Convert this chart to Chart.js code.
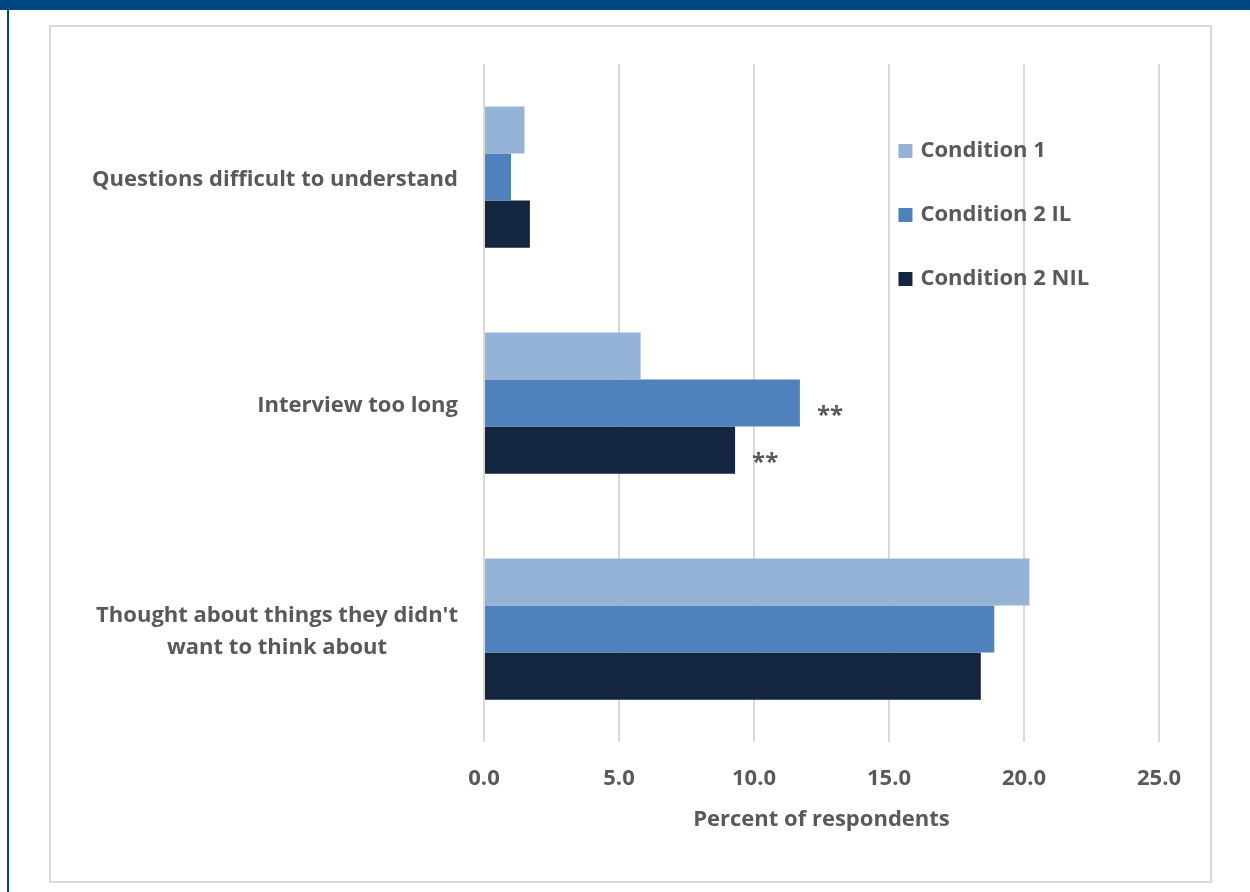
<!DOCTYPE html>
<html>
<head>
<meta charset="utf-8">
<script src="https://cdn.jsdelivr.net/npm/chart.js@4/dist/chart.umd.min.js"></script>
<style>
  html, body { margin:0; padding:0; background:#fff; }
  body { width:1250px; height:892px; position:relative; overflow:hidden; }
  #topbar { position:absolute; left:0; top:0; width:1250px; height:10px; background:#004680; }
  #leftline { position:absolute; left:7px; top:0; width:2px; height:892px; background:#004680; }
  #frame { position:absolute; left:49px; top:25px; width:1159px; height:854px; border:2px solid #d9d9d9; }
  #wrap { position:absolute; left:0; top:0; width:1250px; height:892px; }
</style>
</head>
<body>
<div id="topbar"></div>
<div id="leftline"></div>
<div id="frame"></div>
<div id="wrap"><canvas id="c"></canvas></div>
<script>
// ---- data ----
const categories = [
  ["Questions difficult to understand"],
  ["Interview too long"],
  ["Thought about things they didn't", "want to think about"]
];
const seriesNames = ["Condition 1", "Condition 2 IL", "Condition 2 NIL"];
const condition1 = [1.5, 5.8, 20.2];
const condition2IL = [1.0, 11.7, 18.9];
const condition2NIL = [1.7, 9.3, 18.4];
const sigCondition1 = ["", "", ""];
const sigCondition2IL = ["", "**", ""];
const sigCondition2NIL = ["", "**", ""];
const xTicks = [0, 5, 10, 15, 20, 25];
const xTitle = "Percent of respondents";

const colors = ["#95B3D7", "#4F81BD", "#13253F"];
const textColor = "#595959";
const FONT = "'Open Sans'";

const sigMarks = [sigCondition1, sigCondition2IL, sigCondition2NIL];

const customDraw = {
  id: 'customDraw',
  afterDatasetsDraw(chart) {
    const ctx = chart.ctx;
    const y = chart.scales.y;
    const x = chart.scales.x;
    ctx.save();
    ctx.fillStyle = textColor;
    // category labels
    ctx.font = "bold 22px " + FONT;
    ctx.textBaseline = "middle";
    ctx.textAlign = "center";
    const rightEdge = x.left - 26;
    const lh = 32;
    categories.forEach((lines, i) => {
      const cy = y.getPixelForValue(i) + 3;
      const w = Math.max(...lines.map(l => ctx.measureText(l).width));
      const cx = rightEdge - w / 2;
      const y0 = cy - (lines.length - 1) * lh / 2;
      lines.forEach((l, j) => ctx.fillText(l, cx, y0 + j * lh));
    });
    // significance marks
    ctx.font = "bold 24px " + FONT;
    ctx.textAlign = "left";
    chart.data.datasets.forEach((ds, di) => {
      const meta = chart.getDatasetMeta(di);
      meta.data.forEach((bar, i) => {
        const m = sigMarks[di][i];
        if (m) ctx.fillText(m, bar.x + 17, bar.y + 13);
      });
    });
    // legend
    ctx.font = "bold 22px " + FONT;
    ctx.textAlign = "left";
    const lx = x.getPixelForValue(15.35);
    const ly0 = y.top + 87;
    seriesNames.forEach((n, i) => {
      const ly = ly0 + i * 64;
      ctx.fillStyle = colors[i];
      ctx.fillRect(lx, ly - 7, 14, 14);
      ctx.fillStyle = textColor;
      ctx.fillText(n, lx + 22, ly);
    });
    ctx.restore();
  }
};

new Chart(document.getElementById('c'), {
  type: 'bar',
  data: {
    labels: categories,
    datasets: [
      { label: seriesNames[0], data: condition1, backgroundColor: colors[0] },
      { label: seriesNames[1], data: condition2IL, backgroundColor: colors[1] },
      { label: seriesNames[2], data: condition2NIL, backgroundColor: colors[2] }
    ]
  },
  options: {
    indexAxis: 'y',
    responsive: true,
    maintainAspectRatio: false,
    animation: false,
    layout: { padding: { left: 484, top: 64, right: 91, bottom: 0 } },
    datasets: { bar: { barPercentage: 1.0, categoryPercentage: 0.625, borderWidth: 0 } },
    plugins: { legend: { display: false }, tooltip: { enabled: false } },
    scales: {
      y: {
        ticks: { display: false },
        grid: { display: false },
        border: { display: false },
        afterFit(s) { s.width = 0; }
      },
      x: {
        min: 0, max: 25,
        afterBuildTicks(s) { s.ticks = xTicks.map(v => ({ value: v })); },
        ticks: {
          color: textColor,
          font: { family: FONT, size: 22, weight: 'bold' },
          padding: 24,
          callback: v => Number(v).toFixed(1)
        },
        grid: { color: "#d9d9d9", lineWidth: 2, drawTicks: false },
        border: { display: false },
        title: {
          display: true, text: xTitle, color: textColor,
          font: { family: FONT, size: 22, weight: 'bold', lineHeight: 1.2 },
          padding: { top: 0, bottom: 59 }
        },
        afterFit(s) { s.height = 150; }
      }
    }
  },
  plugins: [customDraw]
});
</script>
</body>
</html>
